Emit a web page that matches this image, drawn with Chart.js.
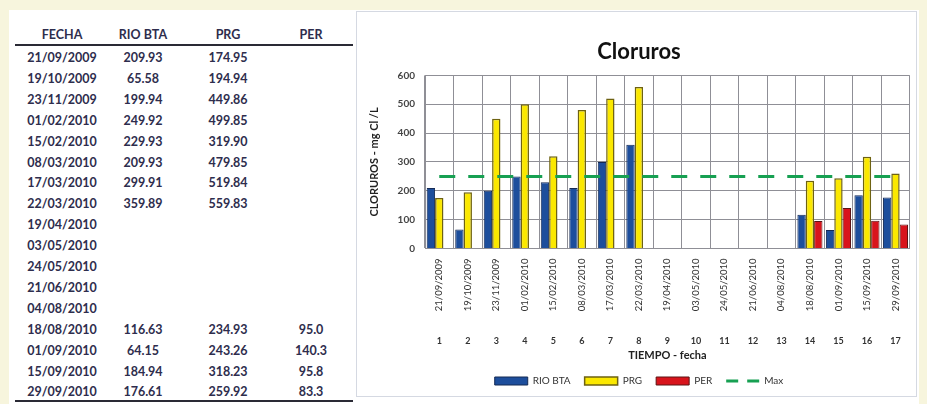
<!DOCTYPE html>
<html>
<head>
<meta charset="utf-8">
<script src="https://cdn.jsdelivr.net/npm/chart.js@4.4.1/dist/chart.umd.min.js"></script>
<style>
  body { margin: 0; width: 927px; height: 404px; overflow: hidden; position: relative; background: #f7f5dd; font-family: Lato, "Open Sans", sans-serif; }
  .panel { position: absolute; left: 9px; top: 10px; width: 910px; height: 394px; background: #fff; }
  .cell { position: absolute; width: 100px; text-align: center; font-size: 12.5px; line-height: 14px; font-weight: bold; color: #2e2d4d; }
  .rule { position: absolute; left: 15px; width: 338px; height: 2px; background: #2a2a35; }
  .frame { position: absolute; left: 356px; top: 11px; width: 561px; height: 386px; border: 1px solid #d5d9e2; box-sizing: border-box; }
  #chart { position: absolute; left: 357px; top: 10px; }
</style>
</head>
<body>
<div class="panel"></div>
<div class="frame"></div>
<div id="tabla"></div>
<canvas id="chart" width="560" height="388"></canvas>
<script>
const fechas = ["21/09/2009", "19/10/2009", "23/11/2009", "01/02/2010", "15/02/2010", "08/03/2010", "17/03/2010", "22/03/2010", "19/04/2010", "03/05/2010", "24/05/2010", "21/06/2010", "04/08/2010", "18/08/2010", "01/09/2010", "15/09/2010", "29/09/2010"];
const numeros = ["1", "2", "3", "4", "5", "6", "7", "8", "9", "10", "11", "12", "13", "14", "15", "16", "17"];
const rioBta = [209.93, 65.58, 199.94, 249.92, 229.93, 209.93, 299.91, 359.89, null, null, null, null, null, 116.63, 64.15, 184.94, 176.61];
const prg = [174.95, 194.94, 449.86, 499.85, 319.90, 479.85, 519.84, 559.83, null, null, null, null, null, 234.93, 243.26, 318.23, 259.92];
const per = [null, null, null, null, null, null, null, null, null, null, null, null, null, 95.0, 140.3, 95.8, 83.3];
const maxLinea = [250, 250, 250, 250, 250, 250, 250, 250, 250, 250, 250, 250, 250, 250, 250, 250, 250];
const encabezados = ["FECHA", "RIO BTA", "PRG", "PER"];

// tabla de la izquierda
const tabla = document.getElementById("tabla");
const colX = [62, 143, 228, 311];

function celda(texto, cx, cy) {
  const d = document.createElement("div");
  d.className = "cell";
  d.textContent = texto;
  d.style.left = (cx - 50) + "px";
  d.style.top = (cy - 7) + "px";
  tabla.appendChild(d);
}

encabezados.forEach((h, i) => celda(h, colX[i], 35));

const r1 = document.createElement("div");
r1.className = "rule";
r1.style.top = "44px";
tabla.appendChild(r1);

fechas.forEach((f, i) => {
  const y = 58 + i * 20.9;
  celda(f, colX[0], y);
  if (rioBta[i] !== null) celda(rioBta[i].toFixed(2), colX[1], y);
  if (prg[i] !== null) celda(prg[i].toFixed(2), colX[2], y);
  if (per[i] !== null) celda(per[i].toFixed(1), colX[3], y);
});

const r2 = document.createElement("div");
r2.className = "rule";
r2.style.top = "400px";
tabla.appendChild(r2);

// grafica
const gris = "#8f8f96";
const ctx = document.getElementById("chart").getContext("2d");

new Chart(ctx, {
  type: "bar",
  data: {
    labels: fechas,
    datasets: [
      {
        label: "RIO BTA",
        data: rioBta,
        backgroundColor: "#1d4e9c",
        borderColor: "#142a55",
        borderWidth: 1,
        pointStyle: "rect",
        categoryPercentage: 0.88,
        barPercentage: 1.0,
      },
      {
        label: "PRG",
        data: prg,
        backgroundColor: "#fbe800",
        borderColor: "#6e6212",
        borderWidth: 1.5,
        pointStyle: "rect",
        categoryPercentage: 0.88,
        barPercentage: 1.0,
      },
      {
        label: "PER",
        data: per,
        backgroundColor: "#d8141c",
        borderColor: "#5c1414",
        borderWidth: 1,
        pointStyle: "rect",
        categoryPercentage: 0.88,
        barPercentage: 1.0,
      },
      {
        type: "line",
        label: "Max",
        data: maxLinea,
        borderColor: "#17a052",
        backgroundColor: "#17a052",
        borderWidth: 3,
        borderDash: [16, 13],
        pointRadius: 0,
        pointStyle: "line",
        fill: false,
        order: -1,
      },
    ],
  },
  options: {
    responsive: false,
    animation: false,
    layout: { padding: { left: 8, right: 4, top: 1, bottom: 2 } },
    plugins: {
      title: {
        display: true,
        text: "Cloruros",
        color: "#111",
        font: { family: "Lato", size: 22, weight: "bold" },
        padding: { top: 28, bottom: 10 },
      },
      legend: {
        position: "bottom",
        labels: {
          usePointStyle: true,
          pointStyleWidth: 33,
          boxHeight: 8,
          padding: 14,
          color: "#333",
          font: { family: "Lato", size: 10 },
          sort: (a, b) => a.datasetIndex - b.datasetIndex,
          generateLabels: (chart) => {
            const items = Chart.defaults.plugins.legend.labels.generateLabels(chart);
            items.forEach((it) => {
              if (it.text === "Max") it.lineDash = [12, 9];
            });
            return items;
          },
        },
      },
      tooltip: { enabled: false },
    },
    scales: {
      x: {
        grid: { color: gris, drawTicks: false },
        border: { color: gris },
        ticks: {
          minRotation: 90,
          maxRotation: 90,
          padding: 10,
          color: "#333",
          font: { family: "Lato", size: 9.5 },
        },
        afterFit: (s) => { s.height = 80; },
      },
      x2: {
        type: "category",
        labels: numeros,
        position: "bottom",
        offset: true,
        grid: { display: false, drawTicks: false },
        border: { display: false },
        ticks: { padding: 7, color: "#333", font: { family: "Lato", size: 9, weight: "bold" } },
        title: {
          display: true,
          text: "TIEMPO - fecha",
          color: "#222",
          font: { family: "Lato", size: 11, weight: "bold" },
          padding: { top: 2, bottom: 0 },
        },
        afterFit: (s) => { s.height = 33.5; },
      },
      y: {
        min: 0,
        max: 600,
        grid: { color: gris, drawTicks: false },
        border: { color: gris },
        ticks: {
          stepSize: 100,
          padding: 10,
          color: "#444",
          font: { family: "Lato", size: 10, weight: "bold" },
        },
        title: {
          display: true,
          text: "CLORUROS - mg Cl /L",
          color: "#222",
          font: { family: "Lato", size: 11, weight: "bold" },
          padding: { top: 3, bottom: 3 },
        },
        afterFit: (s) => { s.width = 60; },
      },
    },
  },
});
</script>
</body>
</html>
